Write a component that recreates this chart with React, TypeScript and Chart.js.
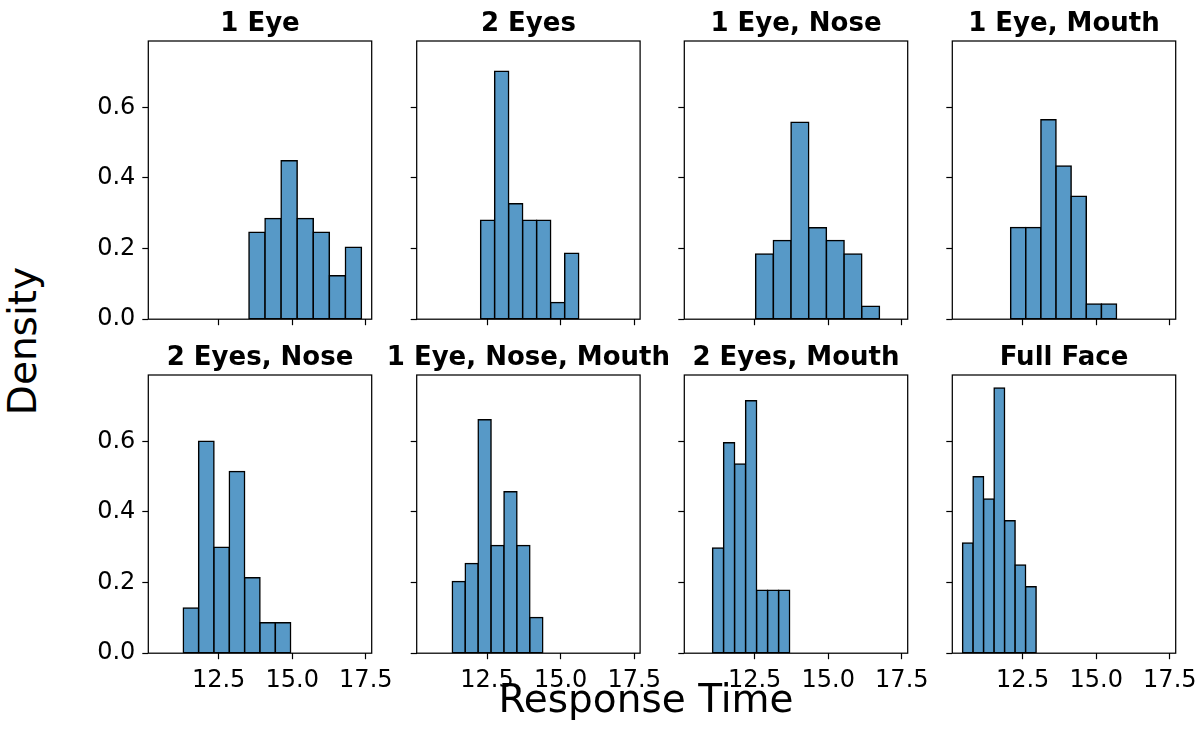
import React, { useEffect, useRef } from 'react';
import { Chart, registerables } from 'chart.js';

Chart.register(...registerables);

// ---- data ----
const panelTitles = [
  '1 Eye',
  '2 Eyes',
  '1 Eye, Nose',
  '1 Eye, Mouth',
  '2 Eyes, Nose',
  '1 Eye, Nose, Mouth',
  '2 Eyes, Mouth',
  'Full Face',
];
const binStarts = [13.53, 12.282, 12.534, 12.092, 11.299, 11.32, 11.071, 10.459];
const binWidths = [0.546, 0.476, 0.601, 0.514, 0.521, 0.439, 0.374, 0.357];

const dens1Eye = [0.246, 0.285, 0.449, 0.285, 0.246, 0.123, 0.204];
const dens2Eyes = [0.28, 0.702, 0.327, 0.28, 0.28, 0.047, 0.187];
const dens1EyeNose = [0.185, 0.223, 0.558, 0.259, 0.223, 0.185, 0.037];
const dens1EyeMouth = [0.26, 0.26, 0.565, 0.434, 0.348, 0.043, 0.043];
const dens2EyesNose = [0.128, 0.6, 0.3, 0.515, 0.214, 0.086, 0.086];
const dens1EyeNoseMouth = [0.203, 0.254, 0.661, 0.305, 0.457, 0.305, 0.101];
const dens2EyesMouth = [0.298, 0.596, 0.536, 0.715, 0.178, 0.178, 0.178];
const densFullFace = [0.312, 0.5, 0.437, 0.751, 0.375, 0.25, 0.188];

const densities = [
  dens1Eye,
  dens2Eyes,
  dens1EyeNose,
  dens1EyeMouth,
  dens2EyesNose,
  dens1EyeNoseMouth,
  dens2EyesMouth,
  densFullFace,
];

const xTickValues = [12.5, 15.0, 17.5];
const yTickValues = [0, 0.2, 0.4, 0.6];
const X_MIN = 10.11;
const X_MAX = 17.7;
const Y_MAX = 0.788;

const xAxisTitle = 'Response Time';
const yAxisTitle = 'Density';

// ---- layout / style ----
const FONT = "'DejaVu Sans', sans-serif";
const BAR_FILL = 'rgb(87,153,199)';
const COL_LEFT = [148.3, 416.7, 684.3, 952.3];
const ROW_TOP = [41, 375];
const PANEL_W = 223.4;
const PANEL_H = 278.2;
const Y_AXIS_W = 70;
const X_AXIS_H = 50;

Chart.defaults.font.family = FONT;
Chart.defaults.color = '#000';

const boxPlugin = {
  id: 'spineBox',
  afterDraw(chart: any) {
    const { ctx, chartArea: a } = chart;
    ctx.save();
    ctx.strokeStyle = '#000';
    ctx.lineWidth = 1.25;
    ctx.strokeRect(a.left, a.top, a.right - a.left, a.bottom - a.top);
    ctx.restore();
  },
};

function Panel({ idx }: { idx: number }) {
  const ref = useRef<HTMLCanvasElement>(null);
  const col = idx % 4;
  const row = Math.floor(idx / 4);
  const left = COL_LEFT[col];
  const top = ROW_TOP[row];
  const cLeft = Math.floor(left) - 90;
  const cTop = Math.floor(top) - 25;
  const padLeft = left - cLeft - Y_AXIS_W;
  const padTop = top - cTop;
  const cW = Math.ceil(left - cLeft + PANEL_W + 40);
  const cH = Math.ceil(top - cTop + PANEL_H + X_AXIS_H);
  const padRight = cW - (left - cLeft) - PANEL_W;
  const padBottom = cH - (top - cTop) - PANEL_H - X_AXIS_H;
  const showX = row === 1;
  const showY = col === 0;

  useEffect(() => {
    const data = densities[idx].map((d, i) => ({
      x: binStarts[idx] + (i + 0.5) * binWidths[idx],
      y: d,
    }));
    const chart = new Chart(ref.current as HTMLCanvasElement, {
      type: 'bar',
      data: {
        datasets: [
          {
            data: data as any,
            backgroundColor: BAR_FILL,
            borderColor: '#000',
            borderWidth: 1.5,
            borderSkipped: false,
            inflateAmount: 0.75,
            barPercentage: 1,
            categoryPercentage: 1,
          } as any,
        ],
      },
      options: {
        responsive: false,
        maintainAspectRatio: false,
        animation: false,
        devicePixelRatio: 1,
        layout: { padding: { left: padLeft, top: padTop, right: padRight, bottom: padBottom } },
        plugins: {
          legend: { display: false },
          tooltip: { enabled: false },
          title: { display: false },
        },
        scales: {
          x: {
            type: 'linear',
            min: X_MIN,
            max: X_MAX,
            offset: false,
            grid: {
              display: true,
              offset: false,
              drawOnChartArea: false,
              drawTicks: true,
              tickLength: 6,
              tickColor: '#000',
              tickWidth: 1.2,
              color: '#000',
            },
            border: { display: false },
            afterBuildTicks: (s: any) => {
              s.ticks = xTickValues.map((v) => ({ value: v }));
            },
            afterFit: (s: any) => {
              s.height = X_AXIS_H;
            },
            ticks: {
              autoSkip: false,
              maxRotation: 0,
              minRotation: 0,
              padding: 7,
              color: '#000',
              font: { size: 24, family: FONT },
              callback: (v: any) => (showX ? Number(v).toFixed(1) : ''),
            },
          },
          y: {
            type: 'linear',
            min: 0,
            max: Y_MAX,
            grid: {
              display: true,
              drawOnChartArea: false,
              drawTicks: true,
              tickLength: 6,
              tickColor: '#000',
              tickWidth: 1.2,
              color: '#000',
            },
            border: { display: false },
            afterBuildTicks: (s: any) => {
              s.ticks = yTickValues.map((v) => ({ value: v }));
            },
            afterFit: (s: any) => {
              s.width = Y_AXIS_W;
            },
            ticks: {
              autoSkip: false,
              padding: 7,
              color: '#000',
              font: { size: 24, family: FONT },
              callback: (v: any) => (showY ? Number(v).toFixed(1) : ''),
            },
          },
        },
      } as any,
      plugins: [boxPlugin],
    });
    return () => chart.destroy();
  }, [idx]);

  return (
    <canvas
      ref={ref}
      width={cW}
      height={cH}
      style={{ position: 'absolute', left: cLeft, top: cTop, width: cW, height: cH }}
    />
  );
}

function PanelTitle({ idx }: { idx: number }) {
  const col = idx % 4;
  const row = Math.floor(idx / 4);
  const cx = COL_LEFT[col] + PANEL_W / 2;
  const baseline = row === 0 ? 30.7 : 364.3;
  return (
    <div
      style={{
        position: 'absolute',
        left: cx - 160,
        width: 320,
        top: baseline - 23.8,
        height: 30,
        lineHeight: '30px',
        textAlign: 'center',
        fontFamily: FONT,
        fontWeight: 'bold',
        fontSize: 26,
        color: '#000',
        whiteSpace: 'nowrap',
      }}
    >
      {panelTitles[idx]}
    </div>
  );
}

export default function App() {
  return (
    <div
      style={{
        position: 'absolute',
        left: 0,
        top: 0,
        width: 1200,
        height: 747,
        background: '#fff',
        overflow: 'hidden',
      }}
    >
      {panelTitles.map((_, i) => (
        <Panel key={'p' + i} idx={i} />
      ))}
      {panelTitles.map((_, i) => (
        <PanelTitle key={'t' + i} idx={i} />
      ))}
      <div
        style={{
          position: 'absolute',
          left: 646 - 250,
          width: 500,
          top: 678.5,
          height: 40,
          lineHeight: '40px',
          textAlign: 'center',
          fontFamily: FONT,
          fontSize: 39,
          color: '#000',
          whiteSpace: 'nowrap',
        }}
      >
        {xAxisTitle}
      </div>
      <div
        style={{
          position: 'absolute',
          left: 23.2 - 100,
          width: 200,
          top: 341 - 20,
          height: 40,
          lineHeight: '40px',
          textAlign: 'center',
          fontFamily: FONT,
          fontSize: 39,
          color: '#000',
          whiteSpace: 'nowrap',
          transform: 'rotate(-90deg)',
          transformOrigin: '50% 50%',
        }}
      >
        {yAxisTitle}
      </div>
    </div>
  );
}
